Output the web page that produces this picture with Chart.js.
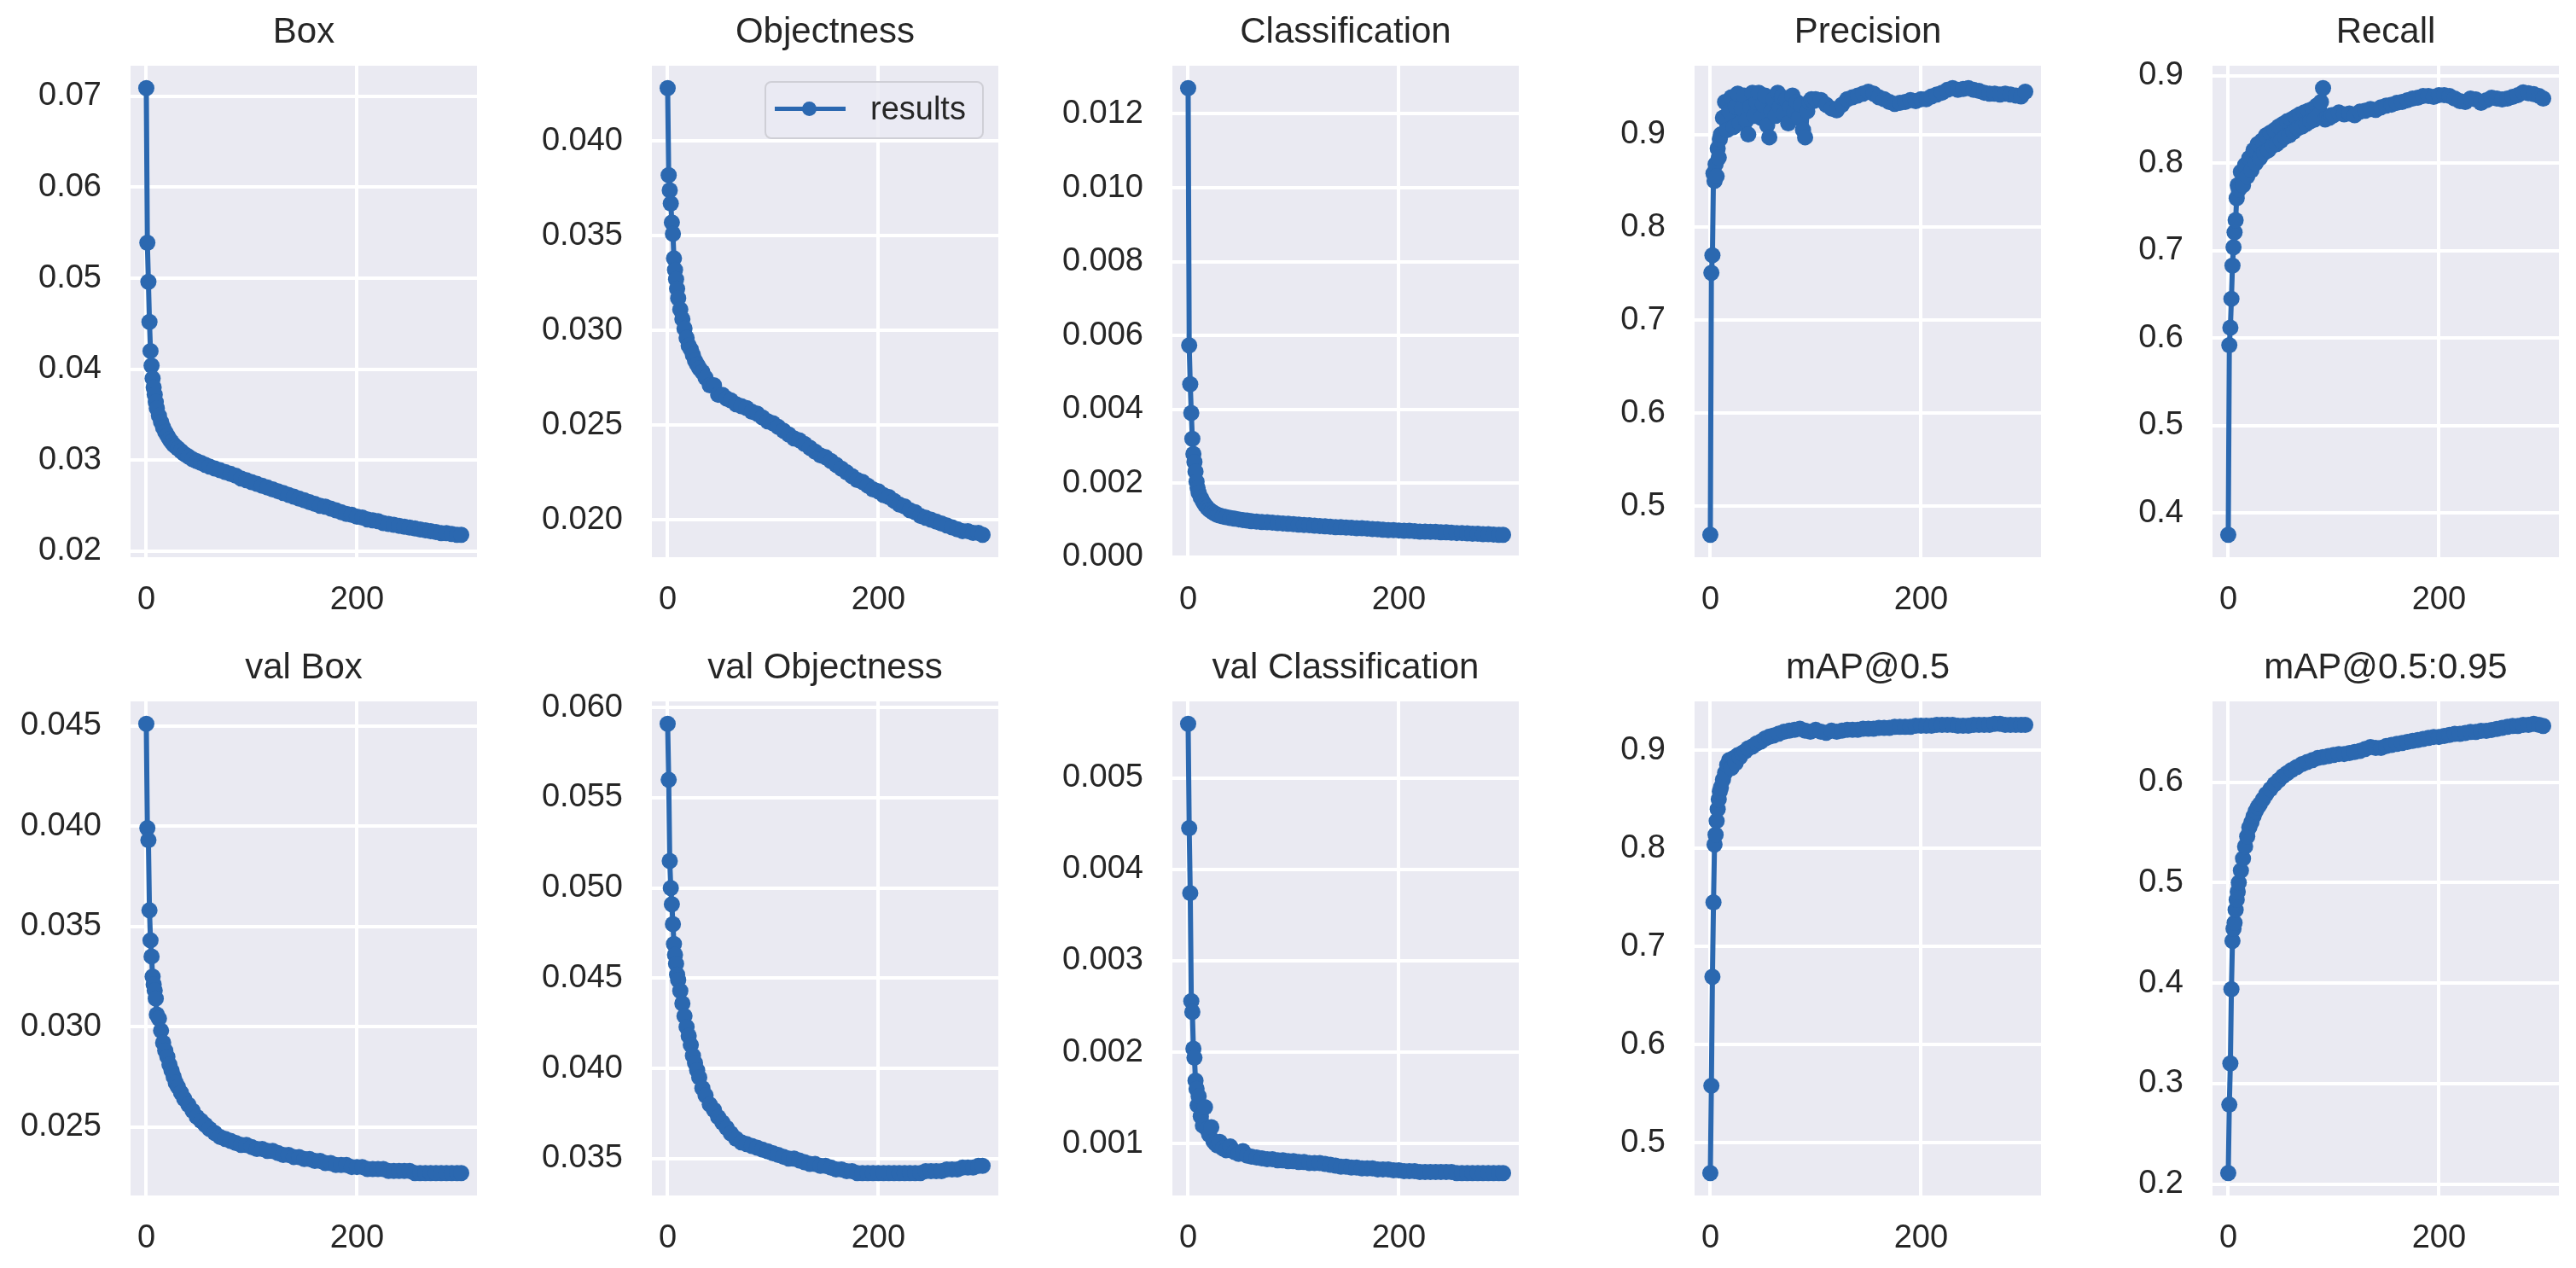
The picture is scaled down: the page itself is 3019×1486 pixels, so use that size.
<!DOCTYPE html>
<html>
<head>
<meta charset="utf-8">
<title>results</title>
<script src="https://cdn.jsdelivr.net/npm/chart.js@4.4.0/dist/chart.umd.min.js"></script>
<style>
  body { margin: 0; background: #fff; width: 3019px; height: 1486px; position: relative; overflow: hidden; font-family: "Liberation Sans", Arial, sans-serif; }
  .panel { position: absolute; }
  #legend { position: absolute; left: 896px; top: 95px; width: 253px; height: 64px; border: 2px solid #cfcfd6; border-radius: 8px; background: rgba(234,234,242,0.8); z-index: 5; }
  #legend .lline { position: absolute; left: 10px; top: 28px; width: 83px; height: 5px; background: #2b68b0; }
  #legend .ldot { position: absolute; left: 42px; top: 22px; width: 17px; height: 17px; border-radius: 50%; background: #2b68b0; }
  #legend .ltext { position: absolute; left: 122px; top: 0; line-height: 60px; font-size: 38px; color: #262626; }
</style>
</head>
<body>
<div id="legend"><span class="lline"></span><span class="ldot"></span><span class="ltext">results</span></div>
<script>
var epochs = [0,1,2,3,4,5,6,7,8,9,10,
  12,14,16,18,20,22,24,26,28,30,
  33,36,40,44,48,52,56,60,
  65,70,75,80,85,90,95,100,105,110,115,120,
  125,130,135,140,145,150,155,160,165,170,175,180,
  185,190,195,200,205,210,215,220,225,230,235,240,
  245,250,255,260,265,270,275,280,285,290,295,299];

// precision / recall are noisy early on, read at a finer step
var denseEpochs = [0,1,2,3,4,5,6,7,8,9,10,
  12,14,16,18,20,22,24,26,28,30,
  32,34,36,38,40,42,44,46,48,50,
  52,54,56,58,60,62,64,66,68,70,
  72,74,76,78,80,82,84,86,88,90,
  92,94,96,98,100,
  105,110,115,120,
  125,130,135,140,145,150,155,160,165,170,175,180,
  185,190,195,200,205,210,215,220,225,230,235,240,
  245,250,255,260,265,270,275,280,285,290,295,299];

var boxLoss = [.0709,.0539,.0496,.0452,.0420,.0404,.0390,.0380,.0372,.0364,.0357,
  .0349,.0342,.0336,.0331,.0327,.0323,.0320,.0317,.0315,.0313,
  .0310,.0307,.0304,.0301,.0299,.0297,.0295,.0293,
  .0291,.0289,.0287,.0285,.0283,.0280,.0278,.0276,.0274,.0272,.0270,.0268,
  .0266,.0264,.0262,.0260,.0258,.0256,.0254,.0252,.0250,.0249,.0247,.0245,
  .0243,.0241,.0240,.0238,.0237,.0235,.0234,.0233,.0231,.0230,.0229,.0228,
  .0227,.0226,.0225,.0224,.0223,.0222,.0221,.0220,.0220,.0219,.0218,.0218];

var objLoss = [.0428,.0382,.0374,.0367,.0357,.0351,.0338,.0332,.0327,.0322,.0317,
  .0311,.0306,.0301,.0296,.0292,.0290,.0287,.0284,.0282,.0280,
  .0278,.0275,.0271,.0271,.0266,.0266,.0264,.0263,
  .0261,.0260,.0259,.0257,.0256,.0254,.0252,.0251,.0249,.0247,.0245,.0243,
  .0242,.0240,.0238,.0236,.0234,.0233,.0231,.0229,.0227,.0225,.0223,.0221,
  .0220,.0218,.0216,.0215,.0213,.0212,.0210,.0208,.0207,.0205,.0204,.0202,
  .0201,.0200,.0199,.0198,.0197,.0196,.0195,.0194,.0194,.0193,.0193,.0192];

var clsLoss = [.0127,.00573,.00468,.00390,.00320,.00279,.00257,.00231,.00204,.00187,.00174,
  .00161,.00150,.00141,.00134,.00128,.00124,.00120,.00117,.00114,.00112,
  .00110,.00108,.00106,.00104,.00102,.00100,.00099,.00097,
  .00096,.00095,.00094,.00093,.00092,.00091,.00090,.00089,.00088,.00087,.00086,.00085,
  .00084,.00083,.00082,.00081,.00081,.00080,.00079,.00078,.00078,.00077,.00076,.00075,
  .00074,.00073,.00073,.00072,.00071,.00071,.00070,.00069,.00069,.00068,.00068,.00067,
  .00067,.00066,.00065,.00065,.00064,.00063,.00063,.00062,.00062,.00061,.00060,.00060];

var precision = [.469,.751,.770,.858,.850,.868,.855,.885,.875,.895,.900,
  .918,.935,.905,.925,.940,.908,.930,.944,.912,.928,
  .942,.915,.900,.930,.945,.920,.935,.945,.918,.932,
  .942,.910,.897,.925,.938,.920,.945,.930,.940,.922,
  .938,.912,.930,.942,.925,.935,.918,.932,.905,.897,
  .925,.935,.938,.936,.938,
  .937,.932,.928,.926,
  .932,.938,.940,.942,.944,.946,.944,.940,.938,.935,.933,.934,
  .935,.937,.936,.938,.938,.941,.943,.945,.948,.950,.948,.949,
  .950,.948,.947,.945,.944,.944,.943,.944,.943,.942,.941,.946];

var recall = [.375,.592,.612,.645,.683,.704,.721,.735,.760,.775,.770,
  .790,.775,.798,.785,.806,.792,.815,.800,.822,.806,
  .826,.812,.832,.815,.835,.820,.838,.822,.842,.826,
  .845,.830,.848,.832,.850,.836,.853,.840,.856,.842,
  .858,.845,.860,.848,.862,.850,.866,.855,.870,.886,
  .850,.853,.852,.855,.855,
  .858,.856,.857,.855,
  .859,.860,.862,.861,.864,.866,.867,.869,.870,.872,.874,.875,
  .877,.877,.876,.878,.878,.877,.874,.871,.870,.874,.873,.869,
  .872,.875,.874,.873,.874,.876,.878,.881,.880,.879,.877,.874];

var valBox = [.0451,.0399,.0393,.0358,.0343,.0335,.0325,.0321,.0318,.0314,.0306,
  .0304,.0298,.0292,.0288,.0285,.0281,.0278,.0275,.0272,.0270,
  .0267,.0264,.0261,.0258,.0255,.0253,.0251,.0249,
  .0247,.0245,.0244,.0243,.0242,.0241,.0241,.0240,.0239,.0239,.0238,.0238,
  .0237,.0236,.0236,.0235,.0235,.0234,.0234,.0233,.0233,.0232,.0232,.0231,
  .0231,.0231,.0230,.0230,.0230,.0229,.0229,.0229,.0229,.0228,.0228,.0228,
  .0228,.0228,.0227,.0227,.0227,.0227,.0227,.0227,.0227,.0227,.0227,.0227];

var valObj = [.0591,.0560,.0515,.0500,.0491,.0480,.0469,.0463,.0458,.0452,.0449,
  .0443,.0436,.0429,.0423,.0418,.0413,.0407,.0403,.0399,.0395,
  .0389,.0385,.0380,.0377,.0373,.0370,.0367,.0364,
  .0361,.0359,.0358,.0357,.0356,.0355,.0354,.0353,.0352,.0351,.0350,.0350,
  .0349,.0348,.0347,.0347,.0346,.0346,.0345,.0344,.0344,.0343,.0343,.0342,
  .0342,.0342,.0342,.0342,.0342,.0342,.0342,.0342,.0342,.0342,.0342,.0342,
  .0343,.0343,.0343,.0343,.0344,.0344,.0344,.0345,.0345,.0345,.0346,.0346];

var valCls = [.00559,.00445,.00374,.00256,.00244,.00204,.00194,.00169,.00160,.00142,.00152,
  .00130,.00120,.00140,.00116,.00110,.00118,.00103,.00100,.00098,.00102,
  .00095,.00093,.00097,.00091,.00089,.00092,.00087,.00086,
  .00085,.00084,.00083,.00083,.00082,.00082,.00081,.00081,.00080,.00080,.00079,.00079,
  .00079,.00078,.00077,.00076,.00075,.00075,.00074,.00074,.00073,.00073,.00073,.00072,
  .00072,.00072,.00071,.00071,.00070,.00070,.00070,.00069,.00069,.00069,.00069,.00069,
  .00069,.00069,.00068,.00068,.00068,.00068,.00068,.00068,.00068,.00068,.00068,.00068];

var map50 = [.469,.558,.669,.745,.804,.814,.828,.840,.850,.858,.862,
  .870,.877,.885,.890,.882,.892,.887,.895,.893,.897,
  .899,.902,.904,.907,.909,.912,.914,.915,
  .917,.919,.920,.921,.922,.920,.919,.921,.919,.918,.920,.919,
  .920,.921,.921,.921,.922,.922,.922,.923,.923,.923,.924,.924,
  .924,.924,.925,.925,.925,.925,.926,.926,.926,.926,.925,.925,
  .925,.926,.926,.926,.926,.927,.927,.926,.926,.926,.926,.926];

var map5095 = [.211,.279,.320,.394,.442,.454,.460,.473,.483,.491,.500,
  .512,.524,.536,.546,.555,.560,.566,.571,.575,.578,
  .583,.588,.593,.598,.602,.606,.609,.612,
  .615,.618,.620,.622,.624,.625,.626,.627,.628,.628,.629,.630,
  .631,.633,.635,.634,.634,.636,.637,.638,.639,.640,.641,.642,
  .643,.644,.645,.645,.646,.647,.648,.648,.649,.650,.650,.651,
  .651,.652,.653,.654,.655,.656,.656,.657,.657,.658,.657,.656];

var titles = ['Box', 'Objectness', 'Classification', 'Precision', 'Recall',
  'val Box', 'val Objectness', 'val Classification', 'mAP@0.5', 'mAP@0.5:0.95'];

var xTicks = ['0', '200'];
var boxTicks = ['0.02', '0.03', '0.04', '0.05', '0.06', '0.07'];
var objTicks = ['0.020', '0.025', '0.030', '0.035', '0.040'];
var clsTicks = ['0.000', '0.002', '0.004', '0.006', '0.008', '0.010', '0.012'];
var precTicks = ['0.5', '0.6', '0.7', '0.8', '0.9'];
var recallTicks = ['0.4', '0.5', '0.6', '0.7', '0.8', '0.9'];
var valBoxTicks = ['0.025', '0.030', '0.035', '0.040', '0.045'];
var valObjTicks = ['0.035', '0.040', '0.045', '0.050', '0.055', '0.060'];
var valClsTicks = ['0.001', '0.002', '0.003', '0.004', '0.005'];
var map50Ticks = ['0.5', '0.6', '0.7', '0.8', '0.9'];
var map5095Ticks = ['0.2', '0.3', '0.4', '0.5', '0.6'];

var series = [boxLoss, objLoss, clsLoss, precision, recall, valBox, valObj, valCls, map50, map5095];
var xValues = [epochs, epochs, epochs, denseEpochs, denseEpochs, epochs, epochs, epochs, epochs, epochs];
var yTicks = [boxTicks, objTicks, clsTicks, precTicks, recallTicks, valBoxTicks, valObjTicks, valClsTicks, map50Ticks, map5095Ticks];

var blue = '#2b68b0';
var textColor = '#262626';
var fontFam = '"Liberation Sans", Arial, sans-serif';

var plotLefts = [153, 764, 1374, 1986, 2593];
var plotTops = [77, 822];
var plotHeights = [576, 579];
var plotWidth = 406;
var yAxisW = 140, titleH = 77, xAxisH = 70, padRight = 10;

var bgPlugin = {
  id: 'plotBg',
  beforeDraw: function(chart) {
    var a = chart.chartArea, ctx = chart.ctx;
    ctx.save();
    ctx.fillStyle = '#eaeaf2';
    ctx.fillRect(a.left, a.top, a.right - a.left, a.bottom - a.top);
    ctx.restore();
  }
};

// matplotlib style 5% margins
function marginRange(vals) {
  var lo = Math.min.apply(null, vals), hi = Math.max.apply(null, vals);
  var m = (hi - lo) * 0.05;
  return [lo - m, hi + m];
}

function tickSetter(labels) {
  return function(scale) {
    scale.ticks = labels.map(function(t) { return { value: parseFloat(t) }; });
  };
}

series.forEach(function(vals, k) {
  var row = Math.floor(k / 5), col = k % 5;
  var xs = xValues[k];
  var canvas = document.createElement('canvas');
  canvas.width = yAxisW + plotWidth + padRight;
  canvas.height = titleH + plotHeights[row] + xAxisH;
  canvas.className = 'panel';
  canvas.style.left = (plotLefts[col] - yAxisW) + 'px';
  canvas.style.top = (plotTops[row] - titleH) + 'px';
  document.body.appendChild(canvas);

  var xr = marginRange(xs), yr = marginRange(vals);
  var labels = yTicks[k];

  new Chart(canvas, {
    type: 'line',
    data: {
      datasets: [{
        label: 'results',
        data: xs.map(function(e, i) { return { x: e, y: vals[i] }; }),
        borderColor: blue,
        backgroundColor: blue,
        pointBackgroundColor: blue,
        borderWidth: 6,
        borderJoinStyle: 'round',
        borderCapStyle: 'round',
        pointRadius: 9.5,
        pointBorderWidth: 0,
        tension: 0
      }]
    },
    options: {
      responsive: false,
      animation: false,
      devicePixelRatio: 1,
      layout: { padding: { left: 0, right: padRight, top: 0, bottom: 0 } },
      plugins: {
        legend: { display: false },
        tooltip: { enabled: false },
        title: {
          display: true,
          text: titles[k],
          fullSize: false,
          color: textColor,
          font: { family: fontFam, size: 42, weight: 'normal' },
          padding: { top: 12.8, bottom: 13.8 }
        }
      },
      scales: {
        x: {
          type: 'linear',
          min: xr[0],
          max: xr[1],
          border: { display: false },
          grid: { color: '#ffffff', lineWidth: 4, drawTicks: false },
          afterBuildTicks: tickSetter(xTicks),
          afterFit: function(s) { s.height = xAxisH; },
          ticks: {
            color: textColor,
            font: { family: fontFam, size: 38 },
            padding: 28,
            maxRotation: 0,
            autoSkip: false,
            callback: function(v, i) { return xTicks[i]; }
          }
        },
        y: {
          type: 'linear',
          min: yr[0],
          max: yr[1],
          border: { display: false },
          grid: { color: '#ffffff', lineWidth: 4, drawTicks: false },
          afterBuildTicks: tickSetter(labels),
          afterFit: function(s) { s.width = yAxisW; },
          ticks: {
            color: textColor,
            font: { family: fontFam, size: 38 },
            padding: 34,
            autoSkip: false,
            callback: function(v, i) { return labels[i]; }
          }
        }
      }
    },
    plugins: [bgPlugin]
  });
});
</script>
</body>
</html>
